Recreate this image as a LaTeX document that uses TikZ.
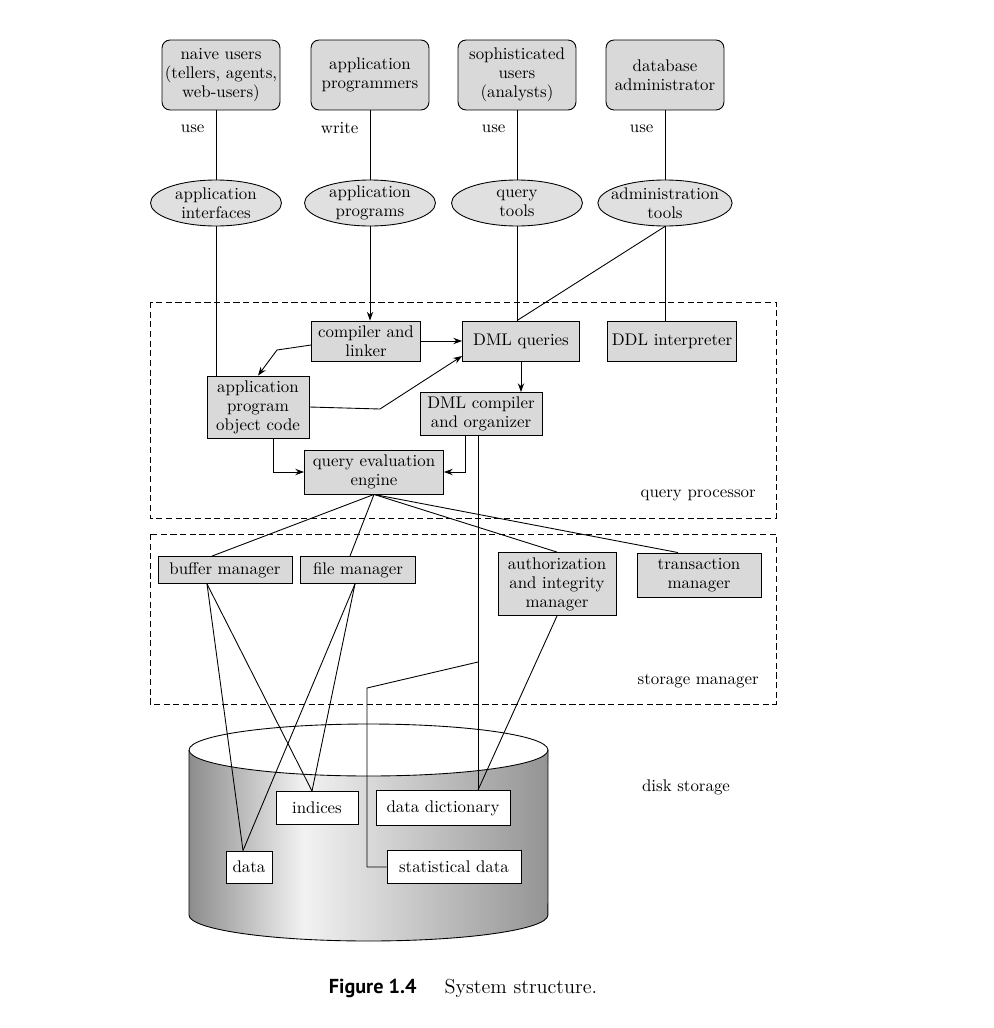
\documentclass[tikz,border=0pt]{standalone}
\usepackage{fontspec}
\newfontfamily\capfont{PT Sans}
\usetikzlibrary{arrows.meta}
\usetikzlibrary{shapes.geometric}
\pgfdeclarehorizontalshading{diskshade}{100bp}{color(0bp)=(black!45); color(25bp)=(black!45); color(41bp)=(black!5); color(75bp)=(black!42); color(100bp)=(black!42)}

\begin{document}
\begin{tikzpicture}[x=0.02cm, y=-0.02cm, line width=0.5pt,
  >={Stealth[length=5pt,width=3.6pt]},
  every node/.style={font=\fontsize{9.6}{10.8}\selectfont},
  user/.style={draw, fill=black!15, rounded corners=0.16cm, align=center, minimum width=2.36cm, minimum height=1.4cm, inner sep=1pt},
  tool/.style={draw, ellipse, fill=black!12, align=center, minimum width=2.62cm, minimum height=0.92cm, inner xsep=-0.13cm, inner ysep=-0.02cm},
  part/.style={draw, fill=black!15, align=center, inner sep=1pt},
  file/.style={draw, fill=white, align=center, inner sep=1pt},
  area/.style={dash pattern=on 3.5pt off 2pt}]
  \useasboundingbox (0,0) rectangle (994,1028);

  % disk
  \path[shading=diskshade] (189,750) -- (189,915) arc[start angle=180, end angle=360, x radius=3.59cm, y radius=0.52cm] -- (548,750) -- cycle;
  \draw (189,750) -- (189,915) arc[start angle=180, end angle=360, x radius=3.59cm, y radius=0.52cm] -- (548,750);
  \draw[fill=white] (368.5,750) ellipse [x radius=3.59cm, y radius=0.52cm];

  % the two parts of the system
  \draw[area] (150,302) rectangle (776,518);
  \draw[area] (150,534) rectangle (776,704);
  \node[anchor=east] (qpl) at (762,495) {query processor};
  \node[anchor=east] (sml) at (765,681) {storage manager};
  \node (dsl) at (686,787) {disk storage};

  % users
  \node (nu) [user] at (221,75) {naive users\\(tellers, agents,\\web-users)};
  \node (pr) [user] at (370,75) {application\\programmers};
  \node (su) [user] at (517,75) {sophisticated\\users\\(analysts)};
  \node (dba) [user] at (665,75) {database\\administrator};

  \node (ai) [tool] at (216,203) {application\\interfaces};
  \node (apg) [tool] at (370,203) {application\\programs};
  \node (qt) [tool] at (517,203) {query\\tools};
  \node (at) [tool] at (665,203) {administration\\tools};

  % query processor
  \node (cl) [part, minimum width=2.18cm, minimum height=0.8cm] at (366,341) {compiler and\\linker};
  \node (dq) [part, minimum width=2.34cm, minimum height=0.8cm] at (521,341) {DML queries};
  \node (ddl) [part, minimum width=2.58cm, minimum height=0.8cm] at (672,341) {DDL interpreter};
  \node (oc) [part, minimum width=2.04cm, minimum height=1.24cm] at (258,407) {application\\program\\object code};
  \node (dc) [part, minimum width=2.44cm, minimum height=0.86cm] at (481,414) {DML compiler\\and organizer};
  \node (qe) [part, minimum width=2.78cm, minimum height=0.88cm] at (374,472) {query evaluation\\engine};

  % storage manager
  \node (bm) [part, minimum width=2.68cm, minimum height=0.54cm] at (225,570) {buffer manager};
  \node (fm) [part, minimum width=2.3cm, minimum height=0.54cm] at (358,570) {file manager};
  \node (am) [part, minimum width=2.36cm, minimum height=1.26cm] at (557,584) {authorization\\and integrity\\manager};
  \node (tm) [part, minimum width=2.48cm, minimum height=0.88cm] at (699,575) {transaction\\manager};

  % disk contents
  \node (ix) [file, minimum width=1.64cm, minimum height=0.66cm] at (317,808) {indices};
  \node (dd) [file, minimum width=2.68cm, minimum height=0.7cm] at (443,808) {data dictionary};
  \node (da) [file, minimum width=0.92cm, minimum height=0.64cm] at (249,867) {data};
  \node (sd) [file, minimum width=2.68cm, minimum height=0.66cm] at (454,867) {statistical data};

  % users to tools
  \draw (ai.north |- nu.south) -- node[pos=0.26, left=3pt] {use} (ai.north);
  \draw (apg.north |- pr.south) -- node[pos=0.26, left=3pt] {write} (apg.north);
  \draw (qt.north |- su.south) -- node[pos=0.26, left=3pt] {use} (qt.north);
  \draw (at.north |- dba.south) -- node[pos=0.26, left=3pt] {use} (at.north);

  % tools to query processor
  \draw (ai.south) -- (ai.south |- oc.north);
  \draw[->] (apg.south) -- (apg.south |- cl.north);
  \draw (qt.south) -- (qt.south |- dq.north);
  \draw (at.south) -- (qt.south |- dq.north);
  \draw (at.south) -- (at.south |- ddl.north);

  % inside the query processor
  \draw[->] (cl.east) -- (cl.east -| dq.west);
  \draw[->] ([yshift=-0.08cm]cl.west) -- (277,350) -- (oc.north);
  \draw[->] (oc.east) -- (380,409) -- ([yshift=-0.3cm]dq.west);
  \draw[->] (dq.south) -- (dq.south |- dc.north);
  \draw[->] ([xshift=0.3cm]oc.south) |- (qe.west);
  \draw[->] ([xshift=-0.32cm]dc.south) |- (qe.east);

  % DML compiler to the data dictionary
  \coordinate (dcx) at ([xshift=-0.06cm]dc.south);
  \coordinate (br) at (478,662);
  \draw (dcx) -- (dcx |- dd.north);
  \draw (br) -- (367,688) |- (sd.west);
  \draw (am.south) -- (dcx |- dd.north);

  % engine to storage manager
  \draw (qe.south) -- ([xshift=-0.26cm]bm.north);
  \draw (qe.south) -- ([xshift=-0.16cm]fm.north);
  \draw (qe.south) -- (am.north);
  \draw (qe.south) -- ([xshift=-0.42cm]tm.north);

  % managers to files
  \draw ([xshift=-0.36cm]bm.south) -- ([xshift=-0.12cm]da.north);
  \draw ([xshift=-0.36cm]bm.south) -- ([xshift=-0.1cm]ix.north);
  \draw ([xshift=-0.06cm]fm.south) -- ([xshift=-0.12cm]da.north);
  \draw ([xshift=-0.06cm]fm.south) -- ([xshift=-0.1cm]ix.north);

  % caption
  \node (cap) at (463,988) {{\capfont\bfseries\fontsize{11.5}{13}\selectfont Figure 1.4}\hspace{16pt}{\fontsize{11.5}{13}\selectfont System structure.}};
\end{tikzpicture}
\end{document}
